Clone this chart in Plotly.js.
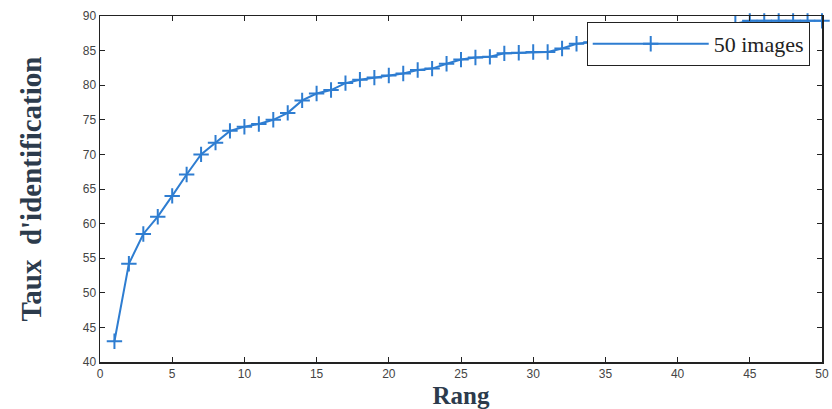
<!DOCTYPE html>
<html>
<head>
<meta charset="utf-8">
<script src="https://cdn.plot.ly/plotly-3.0.1.min.js"></script>
<style>html,body{margin:0;padding:0;background:#fff;}#chart{width:832px;height:409px;}</style>
</head>
<body>
<div id="chart"></div>
<script>
const rang = [1,2,3,4,5,6,7,8,9,10,11,12,13,14,15,16,17,18,19,20,21,22,23,24,25,26,27,28,29,30,31,32,33,34,35,36,37,38,39,40,41,42,43,44,45,46,47,48,49,50];
const taux = [43,54.2,58.5,61,64,67.1,70,71.7,73.4,74,74.4,75,76,77.8,78.8,79.3,80.3,80.8,81.1,81.4,81.7,82.2,82.4,83.1,83.7,84,84.1,84.6,84.7,84.8,84.8,85.3,86,86.2,86.4,86.6,86.8,87,87.2,87.4,87.6,87.8,88,88.9,89.3,89.3,89.3,89.3,89.3,89.3];
const seriesName = "50 images";
const xTicks = [0,5,10,15,20,25,30,35,40,45,50];
const yTicks = [40,45,50,55,60,65,70,75,80,85,90];

const blue = '#2e7dd1';
Plotly.newPlot('chart', [{
  x: rang, y: taux, name: seriesName, type: 'scatter', mode: 'lines+markers',
  line: {color: blue, width: 2},
  marker: {symbol: 'cross-thin-open', size: 11, line: {color: blue, width: 2}},
  cliponaxis: false
}], {
  width: 832, height: 409,
  margin: {l: 100, r: 10, t: 16, b: 47},
  paper_bgcolor: '#fff', plot_bgcolor: '#fff',
  showlegend: true,
  legend: {x: 0.983, y: 0.983, xanchor: 'right', yanchor: 'top',
    bgcolor: '#fff', bordercolor: '#222', borderwidth: 1,
    font: {family: 'Liberation Serif, serif', size: 22, color: '#222'},
    itemwidth: 116},
  xaxis: {range: [0, 50], tickvals: xTicks, ticktext: xTicks.map(String),
    ticks: 'inside', ticklen: 5, tickwidth: 1, tickcolor: '#222',
    showline: true, linecolor: '#222', linewidth: 1.5, mirror: 'ticks',
    showgrid: false, zeroline: false,
    tickfont: {family: 'Liberation Sans, Arial, sans-serif', size: 12, color: '#444'},
    title: {text: 'Rang', standoff: 8,
      font: {family: 'Liberation Serif, serif', size: 25, color: '#2c3b4c', weight: 'bold'}}},
  yaxis: {range: [40, 90], tickvals: yTicks, ticktext: yTicks.map(String),
    ticks: 'inside', ticklen: 5, tickwidth: 1, tickcolor: '#222',
    showline: true, linecolor: '#222', linewidth: 1.5, mirror: 'ticks',
    showgrid: false, zeroline: false,
    tickfont: {family: 'Liberation Sans, Arial, sans-serif', size: 12, color: '#444'},
    title: {text: "Taux  d'identification", standoff: 32,
      font: {family: 'Liberation Serif, serif', size: 29, color: '#2c3b4c', weight: 'bold'}}}
}, {displayModeBar: false, staticPlot: true});
</script>
</body>
</html>
